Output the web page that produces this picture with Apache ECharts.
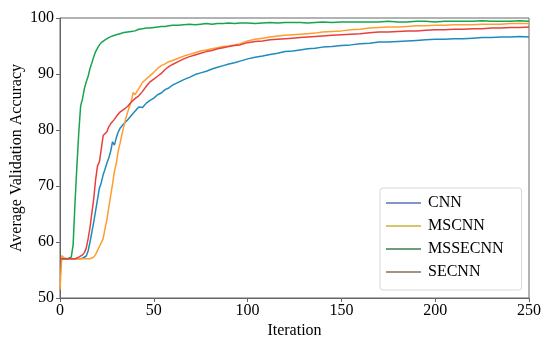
<!DOCTYPE html>
<html>
<head>
<meta charset="utf-8">
<script src="https://cdn.jsdelivr.net/npm/echarts@6/dist/echarts.min.js"></script>
<style>html,body{margin:0;padding:0;background:#fff}#c{width:550px;height:344px}</style>
</head>
<body>
<div id="c"></div>
<script>
const iterations = [0,1,2,4,6,
 7,8,9,10,11,12,13,14,15,16,17,18,19,20,21,22,23,24,25,26,27,28,29,30,31,32,33,34,35,36,37,38,39,40,
 42,44,46,48,50,52,54,56,58,60,
 63,66,69,72,75,78,81,84,87,90,93,96,
 100,104,108,112,116,120,124,128,132,136,140,
 145,150,155,160,165,170,175,180,185,190,195,200,205,210,215,220,225,230,235,240,245,250];

const cnn = [57,57,57,57,57,
 57,57,57,57,57,57.1,57.2,57.5,58.4,60.0,61.8,63.6,65.6,67.6,69.6,70.6,72.0,73.0,74.1,75.0,76.2,77.9,77.3,78.6,79.6,80.3,80.7,81.1,81.3,81.8,82.2,82.5,83.0,83.2,
 84.1,84.0,84.8,85.3,85.7,86.3,86.6,87.2,87.5,88.0,
 88.5,89.0,89.4,89.9,90.2,90.5,90.9,91.2,91.5,91.8,92.0,92.3,
 92.7,93.0,93.2,93.5,93.7,94.0,94.1,94.3,94.5,94.6,94.8,
 94.9,95.1,95.2,95.4,95.5,95.7,95.7,95.8,95.9,96.0,96.1,96.2,96.2,96.3,96.3,96.4,96.5,96.5,96.6,96.6,96.7,96.6];

const mscnn = [51.5,57.6,57.2,57,57,
 57,57,57,57,57,57,57,57,57,57,57.1,57.3,57.8,58.5,59.2,59.9,60.6,62.4,64.0,66.2,68.3,70.3,72.6,74.0,76.2,77.6,79.2,80.6,82.0,83.1,84.2,85.1,86.7,86.3,
 87.4,88.5,89.1,89.7,90.3,91.0,91.5,91.8,92.2,92.4,
 92.8,93.2,93.5,93.8,94.1,94.3,94.5,94.7,94.9,95.0,95.2,95.4,
 95.9,96.2,96.4,96.6,96.8,96.9,97.0,97.1,97.2,97.3,97.5,
 97.6,97.7,97.9,98.0,98.2,98.3,98.4,98.4,98.5,98.6,98.6,98.7,98.7,98.8,98.8,98.8,98.9,98.9,98.9,99.0,99.0,99.0];

const mssecnn = [57,57,57,57,57.3,
 59.5,67,73.5,79.5,84.3,85.6,87.4,88.6,89.6,91.0,92.0,93.1,94.0,94.6,95.2,95.6,95.9,96.1,96.4,96.5,96.7,96.8,96.9,97.0,97.1,97.2,97.2,97.4,97.4,97.5,97.6,97.6,97.8,97.7,
 98.0,98.1,98.2,98.2,98.3,98.4,98.5,98.5,98.6,98.7,
 98.7,98.8,98.9,98.8,98.9,99.0,98.9,99.0,99.0,99.1,99.0,99.1,
 99.1,99.0,99.1,99.2,99.1,99.2,99.2,99.2,99.1,99.2,99.3,
 99.2,99.3,99.3,99.3,99.3,99.3,99.4,99.3,99.3,99.4,99.4,99.3,99.4,99.4,99.4,99.4,99.5,99.4,99.4,99.4,99.5,99.4];

const secnn = [57,57,57,57,57,
 57,57,57.1,57.3,57.5,57.7,58.1,58.9,60.6,62.6,65.2,67.8,71.2,73.6,74.3,76.6,79.0,79.2,79.7,80.6,81.1,81.3,81.9,82.4,82.7,83.2,83.3,83.7,83.9,84.2,84.4,85.0,85.2,85.6,
 86.1,86.9,87.8,88.6,89.1,89.6,90.1,90.8,91.3,91.7,
 92.2,92.7,93.1,93.4,93.7,94.0,94.2,94.5,94.7,94.9,95.1,95.2,
 95.6,95.8,95.9,96.1,96.2,96.3,96.4,96.5,96.6,96.7,96.8,
 96.9,97.0,97.1,97.2,97.35,97.5,97.5,97.6,97.7,97.7,97.8,97.9,97.9,98.0,98.0,98.1,98.1,98.2,98.2,98.3,98.3,98.4];

const seriesNames = ['CNN','MSCNN','MSSECNN','SECNN'];
const lineColors = ['#1f8bbd','#ff9d2e','#16a54e','#e8403c'];
const legendColors = ['#5a72b4','#c9b336','#3f7d48','#8d6b58'];
const xTicks = {min:0, max:250, interval:50};
const yTicks = {min:50, max:100, interval:10};

const valuesList = [cnn, mscnn, mssecnn, secnn];
const FONT = '"Liberation Serif", "Times New Roman", serif';

const chart = echarts.init(document.getElementById('c'), null, {renderer:'canvas'});
chart.setOption({
  animation:false,
  backgroundColor:'#fff',
  grid:{left:60, right:21, top:18, bottom:46, show:true, borderColor:'#666', borderWidth:1, backgroundColor:'transparent', containLabel:false, outerBoundsMode:'none'},
  xAxis:{
    type:'value', min:xTicks.min, max:xTicks.max, interval:xTicks.interval,
    name:'Iteration', nameLocation:'middle', nameGap:25, nameMoveOverlap:false,
    nameTextStyle:{fontFamily:FONT, fontSize:16, color:'#000'},
    axisLine:{show:true, lineStyle:{color:'#666', width:1}},
    axisTick:{show:true, length:4, lineStyle:{color:'#666'}},
    axisLabel:{fontFamily:FONT, fontSize:16, color:'#000', margin:5},
    splitLine:{show:false}
  },
  yAxis:{
    type:'value', min:yTicks.min, max:yTicks.max, interval:yTicks.interval,
    name:'Average Validation Accuracy', nameLocation:'middle', nameGap:35, nameMoveOverlap:false,
    nameTextStyle:{fontFamily:FONT, fontSize:16, color:'#000'},
    axisLine:{show:true, lineStyle:{color:'#666', width:1}},
    axisTick:{show:true, length:4, lineStyle:{color:'#666'}},
    axisLabel:{fontFamily:FONT, fontSize:16, color:'#000', margin:6},
    splitLine:{show:false}
  },
  legend:{
    orient:'vertical', left:380, top:188,
    padding:[7,18,10,6], itemGap:7, itemWidth:35, itemHeight:16,
    backgroundColor:'#fff', borderColor:'#d8d8d8', borderWidth:1, borderRadius:3,
    textStyle:{fontFamily:FONT, fontSize:16, color:'#000', padding:[0,0,0,2]},
    data: seriesNames.map((n,i)=>({name:n, icon:'path://M0,0L35,0L35,1.5L0,1.5Z', itemStyle:{color:legendColors[i]}}))
  },
  series: seriesNames.map((n,i)=>({
    name:n, type:'line', showSymbol:false, symbol:'none',
    lineStyle:{color:lineColors[i], width:1.5},
    itemStyle:{color:lineColors[i]},
    data: iterations.map((x,j)=>[x, valuesList[i][j]])
  }))
});
</script>
</body>
</html>
